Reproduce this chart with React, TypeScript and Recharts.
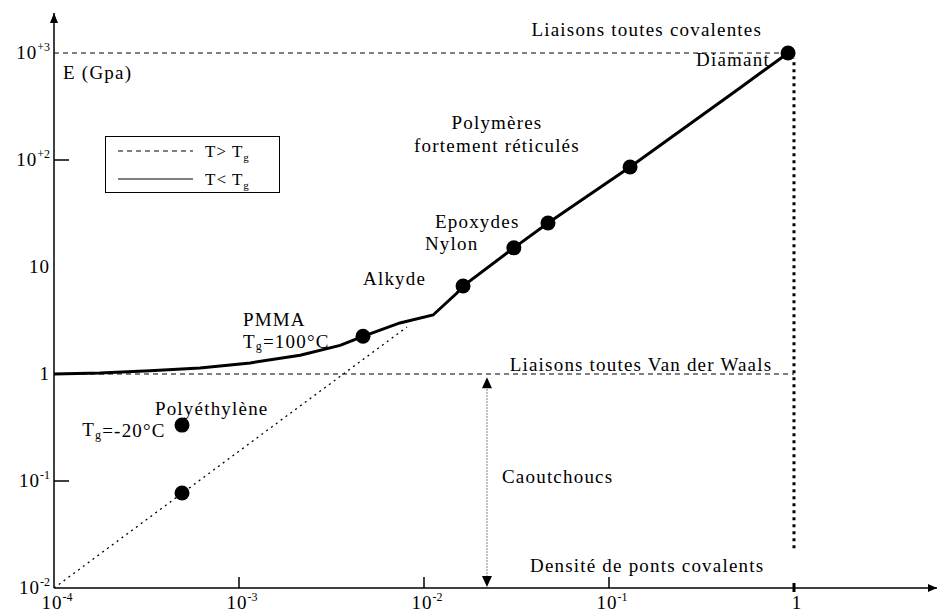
import React from 'react';
import {
  ComposedChart,
  Line,
  Scatter,
  XAxis,
  YAxis,
  ReferenceLine,
  ReferenceDot,
  Legend,
} from 'recharts';

const FONT = '"Liberation Serif", "DejaVu Serif", serif';

// axis limits (log scales)
const X_MIN = 1e-4;
const X_MAX = 5.93;
const Y_MIN = 0.01;
const Y_MAX = 2365;

const xTicks = [1e-4, 1e-3, 1e-2, 1e-1, 1];
const xTickLabels = [['10', '-4'], ['10', '-3'], ['10', '-2'], ['10', '-1'], ['1', '']];
const yTicks = [0.01, 0.1, 1, 10, 100, 1000];
const yTickLabels = [['10', '-2'], ['10', '-1'], ['1', ''], ['10', ''], ['10', '+2'], ['10', '+3']];

// T < Tg : courbe en trait plein
const glassyCurve = [
  { x: 1e-4, y: 1.0 },
  { x: 1.77e-4, y: 1.02 },
  { x: 3.3e-4, y: 1.07 },
  { x: 6.15e-4, y: 1.14 },
  { x: 1.15e-3, y: 1.27 },
  { x: 2.14e-3, y: 1.5 },
  { x: 3.52e-3, y: 1.85 },
  { x: 4.68e-3, y: 2.25 },
  { x: 7.41e-3, y: 3.0 },
  { x: 0.0112, y: 3.56 },
  { x: 0.01507, y: 5.71 },
  { x: 0.01626, y: 6.64 },
  { x: 0.0306, y: 15.1 },
  { x: 0.0468, y: 25.8 },
  { x: 0.13, y: 86 },
  { x: 0.51, y: 471 },
  { x: 0.929, y: 1000 },
];

// T > Tg : droite en pointillés
const rubberyLine = [
  { x: 1e-4, y: 0.01 },
  { x: 0.00809, y: 2.75 },
];

// matériaux (points noirs)
const materials = [
  { name: 'Polyéthylène T>Tg', x: 4.92e-4, y: 0.0773 },
  { name: 'Polyéthylène T<Tg', x: 4.92e-4, y: 0.333 },
  { name: 'PMMA', x: 4.68e-3, y: 2.25 },
  { name: 'Alkyde', x: 0.01626, y: 6.64 },
  { name: 'Nylon', x: 0.0306, y: 15.1 },
  { name: 'Epoxydes', x: 0.0468, y: 25.8 },
  { name: 'Polymères fortement réticulés', x: 0.13, y: 86 },
  { name: 'Diamant', x: 0.929, y: 1000 },
];

const legendItems = [
  { label: 'T> T', sub: 'g', dash: '5 4' },
  { label: 'T< T', sub: 'g', dash: undefined },
];

type Note = { text: string; sub?: string; rest?: string; x: number; y: number; anchor: 'start' | 'middle' | 'end' };

const notes: Note[] = [
  { text: 'E (Gpa)', x: 1.12e-4, y: 664, anchor: 'start' },
  { text: 'Liaisons toutes covalentes', x: 0.16, y: 1641, anchor: 'middle' },
  { text: 'Diamant', x: 0.741, y: 861, anchor: 'end' },
  { text: 'Polymères', x: 0.0248, y: 226, anchor: 'middle' },
  { text: 'fortement réticulés', x: 0.0248, y: 138, anchor: 'middle' },
  { text: 'Epoxydes', x: 0.01146, y: 26.9, anchor: 'start' },
  { text: 'Nylon', x: 0.01012, y: 16.7, anchor: 'start' },
  { text: 'Alkyde', x: 4.68e-3, y: 7.73, anchor: 'start' },
  { text: 'PMMA', x: 1.05e-3, y: 3.2, anchor: 'start' },
  { text: 'T', sub: 'g', rest: '=100°C', x: 1.05e-3, y: 2.03, anchor: 'start' },
  { text: 'Liaisons toutes Van der Waals', x: 0.149, y: 1.24, anchor: 'middle' },
  { text: 'Polyéthylène', x: 3.51e-4, y: 0.481, anchor: 'start' },
  { text: 'T', sub: 'g', rest: '=-20°C', x: 1.42e-4, y: 0.3, anchor: 'start' },
  { text: 'Caoutchoucs', x: 0.0264, y: 0.109, anchor: 'start' },
  { text: 'Densité de ponts covalents', x: 0.0374, y: 0.0164, anchor: 'start' },
];

// position of the "Caoutchoucs" arrow and of the x = 1 limit
const RUBBER_X = 0.0219;
const FULL_X = 1;

function XTick(props: any) {
  const { x, y, index } = props;
  const [base, sup] = xTickLabels[index];
  const isOne = xTicks[index] === 1;
  return (
    <g>
      {index > 0 && (
        <line
          x1={x}
          x2={x}
          y1={isOne ? y - 5 : y - 11}
          y2={isOne ? y + 4 : y}
          stroke="#000"
          strokeWidth={isOne ? 3 : 1.5}
        />
      )}
      <text x={x + 3} y={y + 21} textAnchor="middle" fontFamily={FONT} fontSize={19} letterSpacing={1} fill="#000">
        {base}
        {sup && (
          <tspan dy={-8} fontSize={12} letterSpacing={0}>
            {sup}
          </tspan>
        )}
      </text>
    </g>
  );
}

function YTick(props: any) {
  const { x, y, index } = props;
  const [base, sup] = yTickLabels[index];
  const v = yTicks[index];
  const showMark = v === 0.1 || v === 100;
  return (
    <g>
      {showMark && <line x1={x} x2={x + 15} y1={y} y2={y} stroke="#000" strokeWidth={1.5} />}
      <text x={x - 4} y={y + 6} textAnchor="end" fontFamily={FONT} fontSize={19} letterSpacing={1} fill="#000">
        {base}
        {sup && (
          <tspan dy={-8} fontSize={12} letterSpacing={0}>
            {sup}
          </tspan>
        )}
      </text>
    </g>
  );
}

const noteShape = (n: Note) => (p: any) => (
  <text
    x={p.cx}
    y={p.cy}
    textAnchor={n.anchor}
    dominantBaseline="central"
    fontFamily={FONT}
    fontSize={19}
    letterSpacing={1.2}
    fill="#000"
  >
    {n.text}
    {n.sub && (
      <tspan dy={5} fontSize={12}>
        {n.sub}
      </tspan>
    )}
    {n.rest && <tspan dy={-5}>{n.rest}</tspan>}
  </text>
);

function LegendBox() {
  return (
    <div style={{ width: 175, height: 57, border: '1.5px solid #000', boxSizing: 'border-box', background: '#fff' }}>
      <svg width={172} height={54}>
        {legendItems.map((it, i) => (
          <g key={it.label}>
            <line
              x1={12}
              x2={87}
              y1={14 + i * 28}
              y2={14 + i * 28}
              stroke="#000"
              strokeWidth={1.2}
              strokeDasharray={it.dash}
            />
            <text x={99} y={20 + i * 28} fontFamily={FONT} fontSize={17} letterSpacing={1} fill="#000">
              {it.label}
              <tspan dy={4} fontSize={11}>
                {it.sub}
              </tspan>
            </text>
          </g>
        ))}
      </svg>
    </div>
  );
}

export default function App() {
  return (
    <div style={{ position: 'absolute', left: 0, top: 0, background: '#fff' }}>
      <ComposedChart width={937} height={615} margin={{ top: 13, right: 0, bottom: 0, left: 0 }}>
        <XAxis
          type="number"
          dataKey="x"
          scale="log"
          domain={[X_MIN, X_MAX]}
          allowDataOverflow
          ticks={xTicks}
          tick={<XTick />}
          tickSize={0}
          tickMargin={0}
          tickLine={false}
          height={27}
          axisLine={{ stroke: '#000', strokeWidth: 1.5 }}
          interval={0}
        />
        <YAxis
          type="number"
          dataKey="y"
          scale="log"
          domain={[Y_MIN, Y_MAX]}
          allowDataOverflow
          ticks={yTicks}
          tick={<YTick />}
          tickSize={0}
          tickMargin={0}
          tickLine={false}
          width={54}
          axisLine={{ stroke: '#000', strokeWidth: 1.5 }}
          interval={0}
        />
        <Legend
          layout="vertical"
          align="center"
          verticalAlign="middle"
          wrapperStyle={{ left: 105, top: 136, width: 175, height: 57 }}
          content={() => <LegendBox />}
        />

        {/* limites horizontales */}
        <ReferenceLine
          segment={[{ x: X_MIN, y: 1000 }, { x: 0.9, y: 1000 }]}
          stroke="#000"
          strokeWidth={1.2}
          strokeDasharray="5 4"
        />
        <ReferenceLine
          segment={[{ x: X_MIN, y: 1 }, { x: FULL_X, y: 1 }]}
          stroke="#000"
          strokeWidth={1.2}
          strokeDasharray="5 4"
        />
        {/* limite x = 1 */}
        <ReferenceLine
          segment={[{ x: FULL_X, y: 0.0235 }, { x: FULL_X, y: 897 }]}
          stroke="#000"
          strokeWidth={3}
          strokeDasharray="3 4"
        />
        {/* flèche caoutchoucs */}
        <ReferenceLine
          segment={[{ x: RUBBER_X, y: 0.012 }, { x: RUBBER_X, y: 0.88 }]}
          stroke="#000"
          strokeWidth={1}
          strokeDasharray="1 2"
        />
        <ReferenceDot
          x={RUBBER_X}
          y={0.93}
          r={1}
          shape={(p: any) => (
            <polygon points={`${p.cx},${p.cy} ${p.cx - 5},${p.cy + 11} ${p.cx + 5},${p.cy + 11}`} fill="#000" />
          )}
        />
        <ReferenceDot
          x={RUBBER_X}
          y={Y_MIN}
          r={1}
          shape={(p: any) => (
            <polygon points={`${p.cx},${p.cy - 1} ${p.cx - 5},${p.cy - 12} ${p.cx + 5},${p.cy - 12}`} fill="#000" />
          )}
        />

        <Line
          data={rubberyLine}
          dataKey="y"
          type="linear"
          stroke="#000"
          strokeWidth={1.3}
          strokeDasharray="2 4"
          dot={false}
          activeDot={false}
          isAnimationActive={false}
        />
        <Line
          data={glassyCurve}
          dataKey="y"
          type="linear"
          stroke="#000"
          strokeWidth={3}
          dot={false}
          activeDot={false}
          isAnimationActive={false}
        />
        <Scatter
          data={materials}
          dataKey="y"
          fill="#000"
          isAnimationActive={false}
          shape={(p: any) => <circle cx={p.cx} cy={p.cy} r={7.5} fill="#000" />}
        />

        {notes.map((n, i) => (
          <ReferenceDot key={i} x={n.x} y={n.y} r={1} shape={noteShape(n)} />
        ))}

        {/* flèches des axes */}
        <ReferenceDot
          x={X_MAX}
          y={Y_MIN}
          r={1}
          ifOverflow="visible"
          shape={(p: any) => (
            <polygon points={`${p.cx},${p.cy} ${p.cx - 9},${p.cy - 4} ${p.cx - 9},${p.cy + 4}`} fill="#000" />
          )}
        />
        <ReferenceDot
          x={X_MIN}
          y={Y_MAX}
          r={1}
          ifOverflow="visible"
          shape={(p: any) => (
            <polygon points={`${p.cx},${p.cy} ${p.cx - 4},${p.cy + 10} ${p.cx + 4},${p.cy + 10}`} fill="#000" />
          )}
        />
      </ComposedChart>
    </div>
  );
}
